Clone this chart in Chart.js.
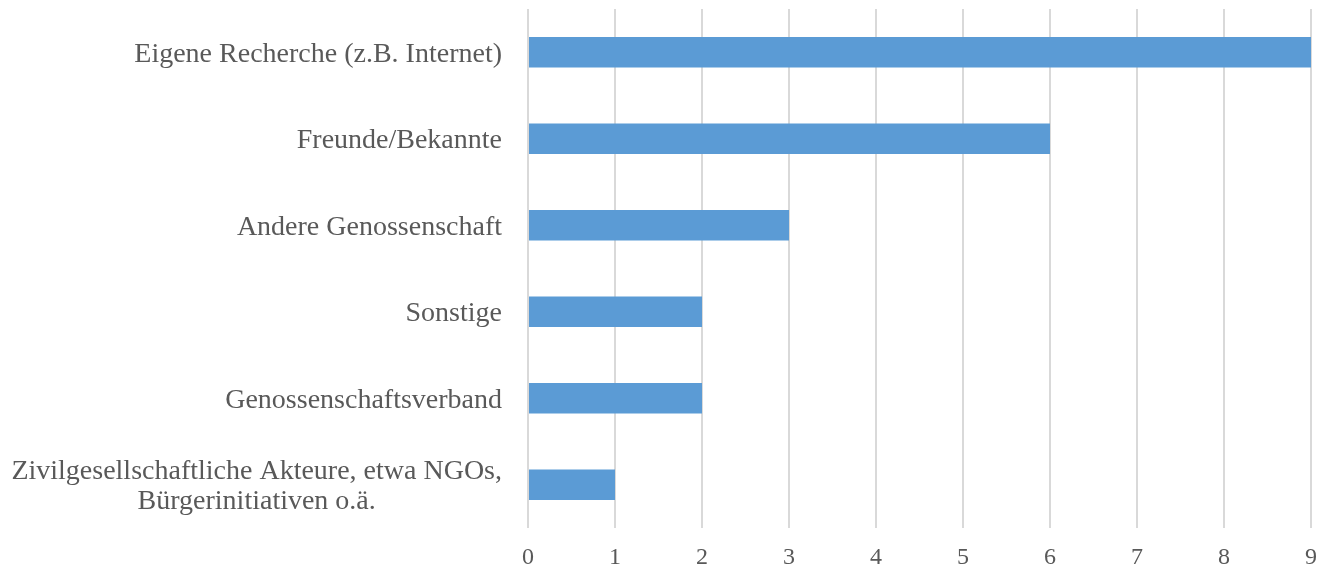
<!DOCTYPE html>
<html>
<head>
<meta charset="utf-8">
<script src="https://cdn.jsdelivr.net/npm/chart.js@4.4.1/dist/chart.umd.min.js"></script>
<style>
  html, body { margin: 0; padding: 0; background: #ffffff; }
  #wrap { width: 1318px; height: 569px; position: relative; }
</style>
</head>
<body>
<div id="wrap"><canvas id="chart-quellen"></canvas></div>
<script>
/* Daten */
const kategorien = [
  'Eigene Recherche (z.B. Internet)',
  'Freunde/Bekannte',
  'Andere Genossenschaft',
  'Sonstige',
  'Genossenschaftsverband',
  ['Zivilgesellschaftliche Akteure, etwa NGOs,', 'Bürgerinitiativen o.ä.']
];
const anzahl = [9, 6, 3, 2, 2, 1];
const xTicks = [0, 1, 2, 3, 4, 5, 6, 7, 8, 9];

const FONT = "'Liberation Serif', 'Times New Roman', serif";
const TEXT = '#595959';
const GRID = '#d9d9d9';
const BAR = '#5b9bd5';

/* Kategorie-Beschriftungen selbst zeichnen (mehrzeilig zentriert) */
const labelPlugin = {
  id: 'yLabels',
  afterDraw(chart) {
    const { ctx, chartArea, scales } = chart;
    const y = scales.y;
    const right = chartArea.left - 26;
    const lh = 30;
    ctx.save();
    ctx.font = '28px ' + FONT;
    ctx.fillStyle = TEXT;
    ctx.textBaseline = 'middle';
    kategorien.forEach((lab, i) => {
      const cy = y.getPixelForValue(i) + 2;
      const lines = Array.isArray(lab) ? lab : [lab];
      if (lines.length === 1) {
        ctx.textAlign = 'right';
        ctx.fillText(lines[0], right, cy);
      } else {
        const w = Math.max(...lines.map(l => ctx.measureText(l).width));
        ctx.textAlign = 'center';
        const top = cy - (lines.length - 1) * lh / 2;
        lines.forEach((l, k) => ctx.fillText(l, right - w / 2, top + k * lh));
      }
    });
    ctx.restore();
  }
};

new Chart(document.getElementById('chart-quellen'), {
  type: 'bar',
  data: {
    labels: kategorien,
    datasets: [{
      data: anzahl,
      backgroundColor: BAR,
      borderWidth: 0,
      categoryPercentage: 1,
      barPercentage: 0.35
    }]
  },
  options: {
    indexAxis: 'y',
    responsive: true,
    maintainAspectRatio: false,
    animation: false,
    layout: { padding: { top: 9, right: 7, left: 0, bottom: 0 } },
    plugins: { legend: { display: false }, tooltip: { enabled: false } },
    scales: {
      x: {
        min: xTicks[0],
        max: xTicks[xTicks.length - 1],
        afterBuildTicks: s => { s.ticks = xTicks.map(v => ({ value: v })); },
        afterFit: s => { s.height = 41; s.paddingLeft = 0; s.paddingRight = 0; },
        grid: { color: GRID, lineWidth: 2, drawTicks: false },
        border: { display: false },
        ticks: { color: TEXT, font: { family: FONT, size: 24 }, padding: 15 }
      },
      y: {
        grid: { display: false, drawTicks: false },
        border: { display: false },
        ticks: { display: false },
        afterFit: s => { s.width = 528; }
      }
    }
  },
  plugins: [labelPlugin]
});
</script>
</body>
</html>
